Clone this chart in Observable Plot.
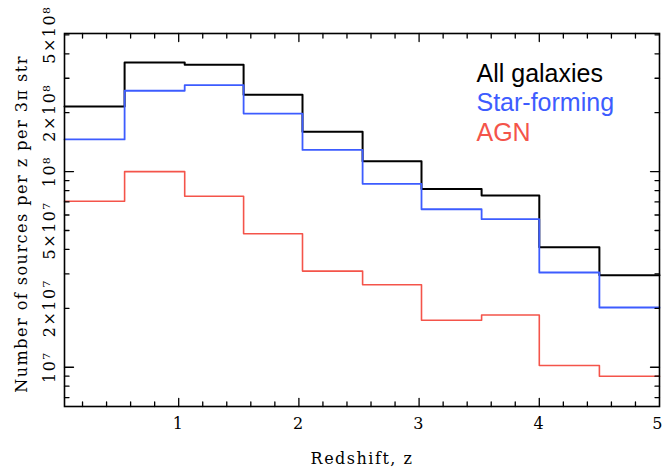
<!DOCTYPE html>
<html>
<head>
<meta charset="utf-8">
<script src="https://cdn.jsdelivr.net/npm/d3@7"></script>
<script src="https://cdn.jsdelivr.net/npm/@observablehq/plot@0.6"></script>
<style>
  html, body { margin: 0; padding: 0; background: #fff; }
  #chart svg { display: block; }
  #chart g[font-family="DejaVu Serif"] { letter-spacing: 1.5px; }
</style>
</head>
<body>
<div id="chart"></div>
<script>
// Bin edges in redshift (step boundaries)
const binEdges = [0.05, 0.55, 1.05, 1.54, 2.03, 2.53, 3.02, 3.52, 4.0, 4.5, 5.0];

// Number of sources per z per 3π str in each bin
const allGalaxies = [2.15e8, 3.61e8, 3.52e8, 2.47e8, 1.60e8, 1.13e8, 8.16e7, 7.54e7, 4.11e7, 2.95e7];
const starForming = [1.46e8, 2.59e8, 2.77e8, 1.98e8, 1.29e8, 8.66e7, 6.42e7, 5.71e7, 3.05e7, 2.02e7];
const agn         = [7.06e7, 1.00e8, 7.48e7, 4.81e7, 3.10e7, 2.64e7, 1.74e7, 1.85e7, 1.02e7, 9.0e6];

const seriesNames  = ["All galaxies", "Star-forming", "AGN"];
const seriesValues = [allGalaxies, starForming, agn];
const seriesColors = ["#000000", "#3d5cff", "#f4544a"];
const seriesWidths = [2, 1.8, 1.6];

// Axis ticks and labels
const xTickValues = [1, 2, 3, 4, 5];
const xTickLabels = ["1", "2", "3", "4", "5"];
const yTickValues = [1e7, 2e7, 5e7, 1e8, 2e8, 5e8];
const yTickLabels = ["10⁷", "2×10⁷", "5×10⁷", "10⁸", "2×10⁸", "5×10⁸"];
const xDomain = [0.05, 5];
const yDomain = [6.3e6, 5.08e8];

const xMinor = d3.range(1, 25).map(i => i / 5).filter(v => v > xDomain[0] && v < xDomain[1] && !Number.isInteger(v));
const yMajor = [1e7, 1e8];
const yMinor = [];
for (const dec of [1e6, 1e7, 1e8]) for (let m = 2; m <= 9; m++) {
  const v = m * dec; if (v > yDomain[0] && v < yDomain[1]) yMinor.push(v);
}

// step line points built from the arrays
function stepPoints(vals) {
  return binEdges.map((e, i) => ({x: e, y: vals[Math.min(i, vals.length - 1)]}));
}

const tickShape = {draw(context, l) { context.moveTo(0, 0); context.lineTo(0, -l); }};
function ticks(data, axis, side, len) {
  const rotate = {bottom: 0, top: 180, left: 90, right: -90}[side];
  const opts = {frameAnchor: side, length: len, rotate, anchor: "start", shape: tickShape, stroke: "black", strokeWidth: 1.3};
  if (axis === "x") opts.x = d => d; else opts.y = d => d;
  return Plot.vector(data, opts);
}

const serif = "DejaVu Serif";
const lastX = xTickValues.length - 1;
const marks = [];
seriesValues.forEach((vals, i) => {
  marks.push(Plot.line(stepPoints(vals), {x: "x", y: "y", curve: "step-after", stroke: seriesColors[i], strokeWidth: seriesWidths[i]}));
});
marks.push(
  ticks(xTickValues.filter(v => v < xDomain[1]), "x", "bottom", 8),
  ticks(xTickValues.filter(v => v < xDomain[1]), "x", "top", 8),
  ticks(xMinor, "x", "bottom", 4.5),
  ticks(xMinor, "x", "top", 4.5),
  ticks(yMajor, "y", "left", 9),
  ticks(yMajor, "y", "right", 9),
  ticks(yMinor, "y", "left", 4.5),
  ticks(yMinor, "y", "right", 4.5),
  Plot.frame({stroke: "black", strokeWidth: 1.6}),
  Plot.text(xTickValues.slice(0, lastX), {x: d => d, text: (d, i) => xTickLabels[i], frameAnchor: "bottom", dy: 17, lineAnchor: "middle", fontFamily: serif, fontSize: 16, fill: "black"}),
  Plot.text([xTickValues[lastX]], {x: d => d, text: () => xTickLabels[lastX], frameAnchor: "bottom", dx: 3, dy: 17, textAnchor: "end", lineAnchor: "middle", fontFamily: "DejaVu Serif ", fontSize: 16, fill: "black"}),
  Plot.text(yTickValues, {y: d => d, text: (d, i) => yTickLabels[i], frameAnchor: "left", dx: -10, rotate: -90, lineAnchor: "bottom", textAnchor: "middle", fontFamily: serif, fontSize: 16, fill: "black"}),
  Plot.text(["Redshift, z"], {frameAnchor: "bottom", dy: 52, lineAnchor: "middle", fontFamily: serif, fontSize: 16, fill: "black"}),
  Plot.text(["Number of sources per z per 3π str"], {frameAnchor: "left", dx: -38, dy: 4, rotate: -90, lineAnchor: "bottom", textAnchor: "middle", fontFamily: serif, fontSize: 16, fill: "black"})
);
seriesNames.forEach((name, i) => {
  marks.push(Plot.text([name], {frameAnchor: "top-left", dx: 412, dy: 40 + i * 29.7, textAnchor: "start", lineAnchor: "middle", fill: seriesColors[i], fontFamily: "Liberation Sans", fontSize: 25}));
});

const chart = Plot.plot({
  width: 662,
  height: 468,
  marginTop: 33,
  marginBottom: 62,
  marginLeft: 64,
  marginRight: 3,
  x: {domain: xDomain, axis: null},
  y: {type: "log", domain: yDomain, axis: null},
  style: {background: "white"},
  marks
});
document.getElementById("chart").appendChild(chart);
</script>
</body>
</html>
